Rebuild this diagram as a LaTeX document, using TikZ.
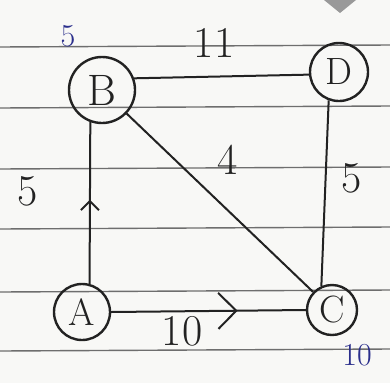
\documentclass[tikz,border=0pt]{standalone}
\usepackage{fontspec}
\usepackage{xcolor}
\usetikzlibrary{arrows.meta,decorations.markings}
\definecolor{ink}{HTML}{222222}
\definecolor{ruling}{HTML}{6E6E6E}
\definecolor{penblue}{HTML}{2B2F8C}
\definecolor{paper}{HTML}{F8F8F6}
\newcommand{\wfont}[1]{\fontsize{#1}{#1}\selectfont}

\begin{document}
\begin{tikzpicture}[x=1pt, y=-1pt,
  vert/.style={draw=ink, line width=2.4pt, circle, minimum size=54pt, inner sep=0pt, font=\wfont{38pt}\color{ink}},
  link/.style={draw=ink, line width=2pt},
  weight/.style={font=\wfont{44pt}\color{ink}},
  note/.style={font=\wfont{32pt}\color{penblue}},
  midarrow/.style 2 args={postaction={decorate}, decoration={markings, mark=at position #1 with {\arrow[ink, line width=2pt]{Straight Barb[length=#2, width=2*#2]}}}}
]
% paper and ruling
\fill[paper] (0,0) rectangle (390,383);
\useasboundingbox (0,0) rectangle (390,383);
\foreach \y in {46,107,168,228,291,350}
  \draw[ruling, line width=1.4pt] (0,\y+1) -- (390,\y-1);
\fill[black!40] (324,0) -- (340,13) -- (356,0) -- cycle;

% vertices
\node[vert, minimum size=66pt, font=\wfont{44pt}\color{ink}] (B) at (102,90) {B};
\node[vert, minimum size=58pt] (D) at (339,72) {D};
\node[vert, minimum size=56pt] (A) at (82,312) {A};
\node[vert, minimum size=50pt] (C) at (332,310) {C};

% edges
\draw[link] (B.20) -- (D.185);
\draw[link] (B) -- (C);
\draw[link] (D.250) -- (C.114);
\draw[link, midarrow={0.52}{9pt}] (A.75) -- (B.250);
\draw[link, midarrow={0.65}{18pt}] (A.east) -- (C.west);

% weights
\node[weight] (wBD) at (214,43) {11};
\node[weight] (wBC) at (228,160) {4};
\node[weight] (wAB) at (28,191) {5};
\node[weight] (wDC) at (352,178) {5};
\node[weight] (wAC) at (182,331) {10};

% distances
\node[note] (dB) at (68,36) {5};
\node[note] (dC) at (357,355) {10};
\end{tikzpicture}
\end{document}
